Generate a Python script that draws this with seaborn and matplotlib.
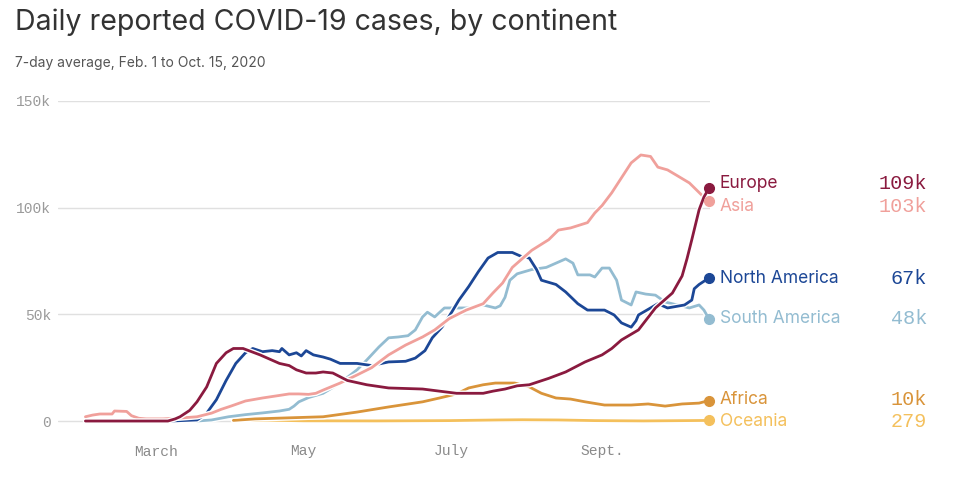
import pandas as pd
import numpy as np
import matplotlib
matplotlib.use("Agg")
import matplotlib.pyplot as plt
import matplotlib.patheffects as pe
from matplotlib.transforms import blended_transform_factory
import seaborn as sns

# Days since Feb. 1, 2020 and 7-day average cases (thousands)
europe_days = [0, 34, 37, 39, 43, 46, 50, 54, 58, 61, 65, 72, 80, 84, 87, 91, 95, 98, 102, 108,
               112, 116, 125, 139, 146, 153, 164, 168, 173, 178, 183, 191, 198, 206, 213, 217,
               221, 228, 235, 239, 242, 246, 248, 250, 253, 255, 257]
europe_k = [0, 0, 1, 2, 5, 9, 16, 27, 32, 34, 34, 31, 27, 26, 24, 22.5, 22.5, 23, 22.5, 19,
            18, 17, 15.5, 15, 14, 13, 13, 14, 15, 16.5, 17, 20, 23, 27.7, 31, 34,
            38, 42.7, 53, 57, 60, 68, 76, 85, 99, 105, 109]

asia_days = [0, 3, 6, 11, 12, 17, 19, 22, 25, 32, 39, 46, 52, 56, 60, 66, 73, 80, 84, 88, 92,
             95, 98, 105, 112, 118, 125, 132, 139, 144, 150, 157, 164, 168, 172, 176, 184, 191,
             195, 200, 207, 210, 213, 217, 221, 225, 229, 233, 236, 240, 244, 249, 254, 257]
asia_k = [2, 2.8, 3.3, 3.3, 4.7, 4.5, 2.5, 1.3, 1, 1, 1.4, 2, 3.7, 5.5, 7, 9.4, 10.8, 12, 12.7, 12.7, 12.5,
          13, 14.5, 17.8, 21.6, 25, 31, 35.6, 39.4, 42.7, 48, 52, 55, 60, 64.7, 72, 80, 85,
          89.5, 90.5, 93, 97.5, 101, 107, 114, 121, 124.7, 124, 119, 117.7, 115, 111.6, 106, 103]

namerica_days = [35, 46, 48, 50, 54, 58, 62, 66, 69, 73, 77, 80, 81, 84, 87, 89, 91, 94, 98, 101,
                 105, 112, 118, 125, 132, 136, 140, 143, 147, 151, 154, 158, 162, 166, 170, 173,
                 176, 180, 183, 186, 188, 194, 198, 203, 207, 214, 218, 221, 225, 227, 228, 233,
                 236, 240, 247, 250, 251, 253, 257]
namerica_k = [0, 0.5, 2, 3.7, 10, 19, 27, 32, 34, 32.5, 33, 32.5, 34, 31, 32, 30.5, 33, 31, 30, 29,
              27, 27, 26, 27.7, 28, 29.5, 33, 39, 44, 51, 56.7, 63, 70, 76.4, 79, 79,
              79, 77, 76.4, 71, 66, 64, 60.5, 55, 52, 52, 49.7, 46, 44, 47, 49.7, 53,
              55, 53, 54.4, 56.7, 62, 64, 67]

samerica_days = [46, 52, 59, 66, 73, 80, 84, 86, 88, 92, 98, 105, 112, 116, 121, 125, 129, 133,
                 136, 139, 141, 144, 148, 152, 158, 164, 169, 171, 173, 175, 178, 184, 190, 195,
                 198, 201, 203, 208, 210, 213, 216, 219, 221, 225, 227, 231, 235, 239, 244, 249,
                 253, 255, 257]
samerica_k = [0, 0.5, 2, 3, 3.8, 4.7, 5.5, 7, 9, 11, 13, 17.8, 24, 28.6, 34.7, 39, 39.4, 40,
              42.7, 48.8, 51, 48.8, 53, 53, 53, 54.4, 53, 54, 58, 66, 69, 71, 72, 74.5,
              76, 74, 68.5, 68.5, 67.5, 71.7, 71.7, 66, 56.7, 54.4, 60.5, 59.5, 59, 55.8, 54.4, 53,
              54.4, 52, 48]

africa_days = [61, 70, 84, 98, 112, 125, 139, 146, 153, 158, 164, 169, 177, 183, 188, 194, 200,
               206, 214, 225, 232, 239, 246, 253, 257]
africa_k = [0.3, 1, 1.5, 2, 4.2, 6.6, 9, 10.8, 12.7, 15.5, 17, 17.8, 17.8, 16, 13, 10.8, 10.3,
            9, 7.5, 7.5, 8, 7, 8, 8.4, 9.6]

oceania_days = [61, 75, 90, 120, 150, 170, 180, 195, 210, 230, 257]
oceania_k = [0.2, 0.4, 0.1, 0.05, 0.2, 0.5, 0.6, 0.5, 0.2, 0.05, 0.28]

continents = ["Europe", "Asia", "North America", "South America", "Africa", "Oceania"]
end_labels = ["109k", "103k", "67k", "48k", "10k", "279"]
colors = ["#8a1a3f", "#f0a09b", "#1c4796", "#93bcd1", "#d9943a", "#f4c05c"]

series = {
    "Europe": (europe_days, europe_k),
    "Asia": (asia_days, asia_k),
    "North America": (namerica_days, namerica_k),
    "South America": (samerica_days, samerica_k),
    "Africa": (africa_days, africa_k),
    "Oceania": (oceania_days, oceania_k),
}

start = pd.Timestamp("2020-02-01")
frames = []
for name, (days, vals) in series.items():
    frames.append(pd.DataFrame({
        "date": start + pd.to_timedelta(days, unit="D"),
        "cases": np.array(vals) * 1000,
        "continent": name,
    }))
df = pd.concat(frames, ignore_index=True)

sns.set_style("white")
plt.rcParams["font.family"] = ["Inter", "DejaVu Sans"]
mono = "Liberation Mono"

fig = plt.figure(figsize=(9.6, 4.97), dpi=100)
ax = fig.add_axes([58 / 960, 1 - 444.5 / 497, 652 / 960, 343.5 / 497])

palette = dict(zip(continents, colors))
draw_order = ["Oceania", "Africa", "South America", "North America", "Asia", "Europe"]
sns.lineplot(data=df, x="date", y="cases", hue="continent", hue_order=draw_order,
             palette=palette, linewidth=2, legend=False, ax=ax, estimator=None)
for line in ax.lines:
    line.set_path_effects([pe.Stroke(linewidth=4, foreground="white"), pe.Normal()])

# end dots
last = df.groupby("continent").tail(1).set_index("continent")
for name in draw_order:
    ax.plot(last.loc[name, "date"], last.loc[name, "cases"], "o", color=palette[name],
            markersize=7, zorder=5, clip_on=False)

ax.set_xlim(start - pd.Timedelta(days=11.3), pd.Timestamp("2020-10-15") + pd.Timedelta(hours=12))
ax.set_ylim(-11000, 150000)
ax.set_yticks([0, 50000, 100000, 150000])
ax.set_yticklabels(["0", "50k", "100k", "150k"], fontfamily=mono, fontsize=10.5, color="#9a9a9a")
ax.set_xticks(pd.to_datetime(["2020-03-01", "2020-05-01", "2020-07-01", "2020-09-01"]))
ax.set_xticklabels(["March", "May", "July", "Sept."], fontfamily=mono, fontsize=10.5, color="#8a8a8a")
ax.tick_params(axis="y", length=0, pad=5)
ax.tick_params(axis="x", direction="in", length=14, width=1, color="#e0e0e0", pad=0)
ax.grid(axis="y", color="#e0e0e0", linewidth=1)
ax.grid(axis="x", visible=False)
ax.set_xlabel("")
ax.set_ylabel("")
for s in ax.spines.values():
    s.set_visible(False)

# right-hand labels, nudged apart when too close
end_vals = [last.loc[n, "cases"] for n in continents]
label_y = list(end_vals)
min_gap = 10500
for i in range(len(label_y) - 1):
    if label_y[i] - label_y[i + 1] < min_gap:
        mid = (label_y[i] + label_y[i + 1]) / 2
        label_y[i] = mid + min_gap / 2
        label_y[i + 1] = mid - min_gap / 2

trans = blended_transform_factory(ax.transAxes, ax.transData)
for name, y, lab in zip(continents, label_y, end_labels):
    ax.text((720 - 58) / 652, y, name, transform=trans, ha="left", va="center",
            fontsize=12.5, color=palette[name])
    ax.text((927 - 58) / 652, y, lab, transform=trans, ha="right", va="center",
            fontsize=14.5, fontfamily=mono, color=palette[name])

fig.text(15 / 960, 1 - 22 / 497, "Daily reported COVID-19 cases, by continent",
         fontsize=20.5, color="#333333", ha="left", va="center")
fig.text(15 / 960, 1 - 63 / 497, "7-day average, Feb. 1 to Oct. 15, 2020",
         fontsize=10, color="#555555", ha="left", va="center")

fig.savefig("out.png", dpi=100)
